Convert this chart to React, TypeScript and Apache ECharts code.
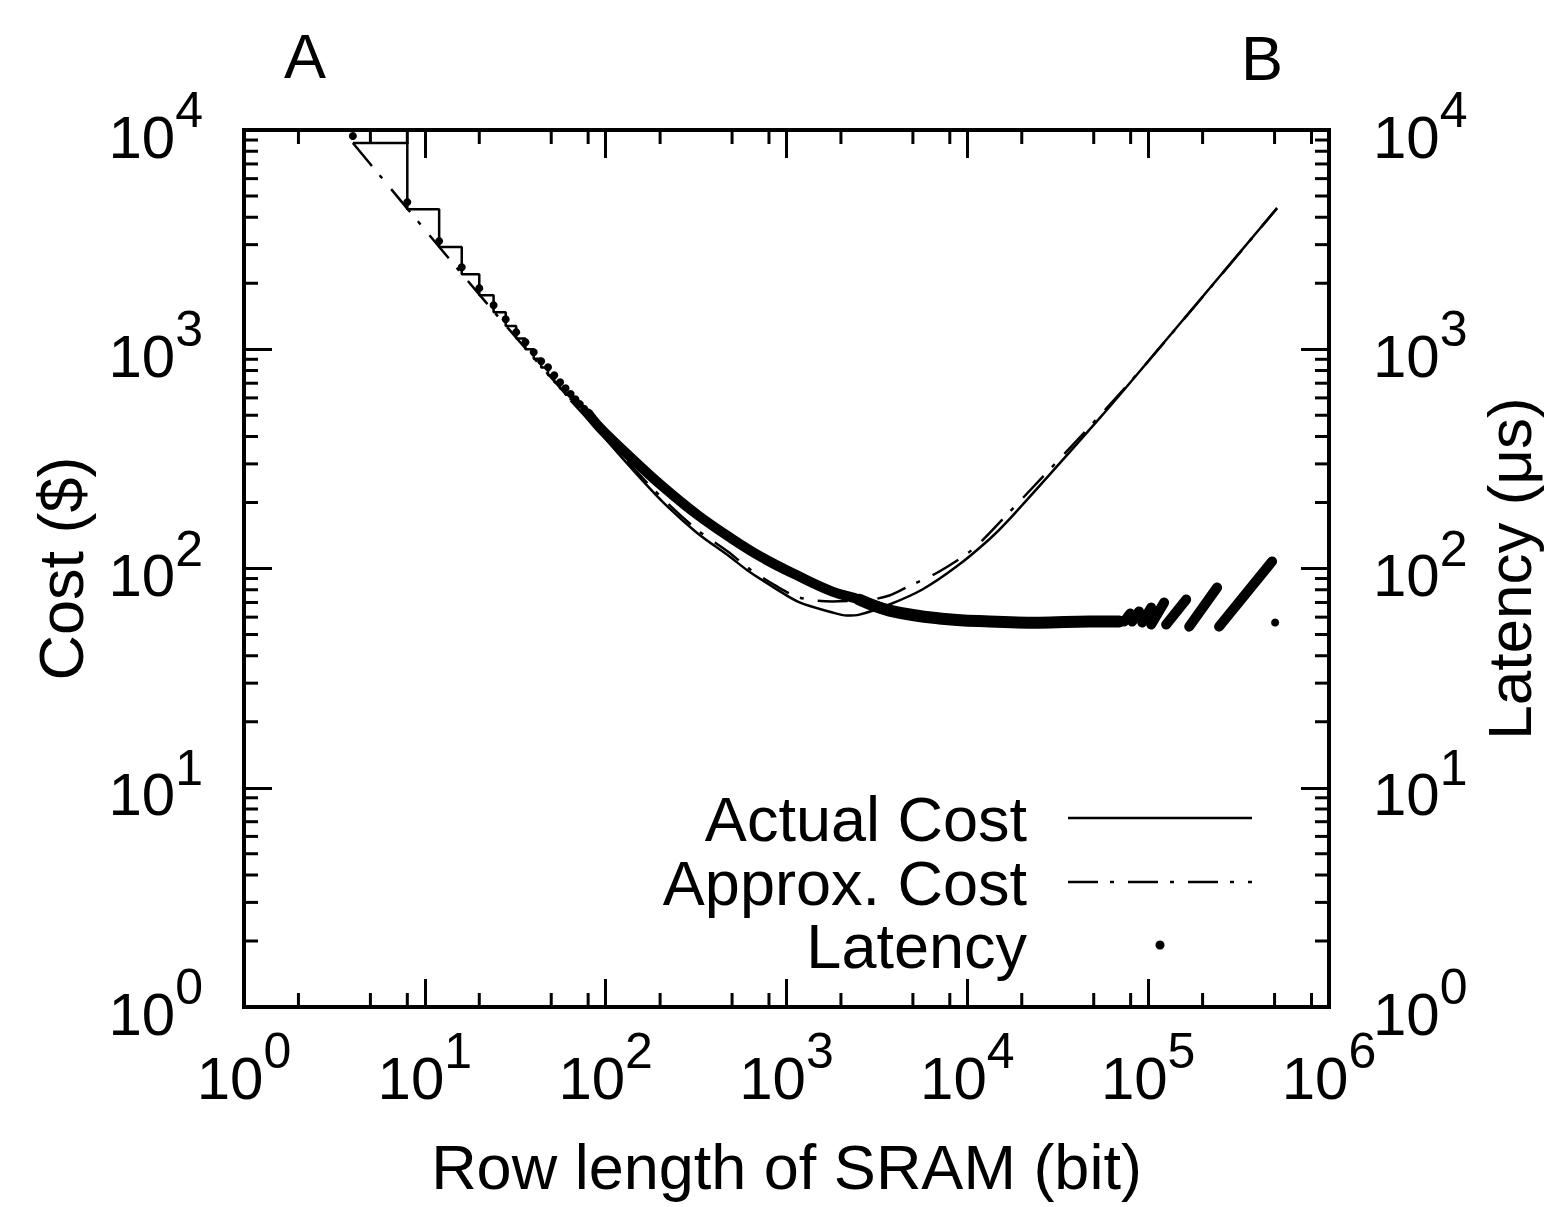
import React, { useEffect, useRef } from 'react';
import * as echarts from 'echarts';

const FONT = '"Liberation Sans", Arial, Helvetica, sans-serif';

// ---- data ----
// Actual cost, stair-stepped part (row length in bits, cost in $)
const actualStepX = [4, 8, 12, 16, 20, 24, 28, 32, 36, 40, 44, 48, 52, 56, 60, 64];
const actualStepY = [8730, 4356, 2923, 2199, 1765, 1476, 1275, 1120, 1000, 905, 826, 762, 707, 660, 620, 585];
// Actual cost, smooth part
const actualX = [64, 92.7, 136, 206, 318, 484, 609, 870, 1180, 1795, 2145, 2530, 3710, 5640, 8710, 13240, 17000, 55000, 100000, 516000];
const actualY = [585, 418, 292, 202, 146, 113.5, 98, 81, 70, 63, 61, 61.6, 68.5, 80.2, 102, 136, 167, 494, 881, 4400];
// Approximate cost
const approxX = [4, 8, 16, 32, 64, 92.7, 136, 206, 318, 484, 609, 870, 1180, 1795, 2530, 2985, 3710, 4600, 7000, 10660, 15600, 53600, 100000, 516000];
const approxY = [8730, 4380, 2210, 1130, 590, 431, 299, 209, 151, 118, 101, 83.5, 73.7, 70.7, 71.4, 72.2, 75.3, 81.9, 96.9, 122, 167, 494, 881, 4400];
// Latency, individual dots (µs)
const latencyDotX = [4, 8, 12, 16, 20, 24, 28, 32, 36, 40, 44, 48, 52, 56, 60, 64, 68, 72, 76, 80, 84, 88, 92, 96, 100, 503400];
const latencyDotY = [9390, 4690, 3113, 2368, 1900, 1588, 1371, 1197, 1077, 969, 881, 827, 761, 707, 664, 625, 592, 562, 535, 510, 488, 467, 446, 428, 412, 56.7];
// Latency, dense band (descending part)
const latencyBandX = [80, 92.7, 136, 206, 318, 484, 737, 1180, 1795, 2530, 3710];
const latencyBandY = [510, 440, 324, 237, 177, 139, 112, 91.9, 78.5, 72.1, 64.3];
// Latency, dense band (flat part)
const latencyFlatX = [2530, 3710, 7000, 13240, 25000, 47200, 69200];
const latencyFlatY = [72.1, 64.3, 59.2, 57.3, 56.6, 57.3, 57.3];
// Latency, saw-tooth strokes at large row lengths: [x1, y1, x2, y2]
const latencyStrokes = [
  [73700, 57.3, 79600, 62.4],
  [81600, 57.3, 89100, 63.7],
  [92700, 56.7, 103900, 66.3],
  [103900, 55.5, 122500, 69.9],
  [125700, 55.5, 162200, 72.2],
  [168600, 54.3, 240600, 81.9],
  [246700, 54.3, 484500, 107.7],
];
// Axis ranges and minor tick mantissas
const xRange = [1, 1e6];
const yRange = [1, 1e4];
const xMinorMantissas = [2, 5, 8];
const yMinorMantissas = [2, 3, 4, 5, 6, 7, 8, 9];
const xDecades = [1, 10, 100, 1000, 10000, 100000];
const yDecades = [1, 10, 100, 1000];
const legendLabels = ['Actual Cost', 'Approx. Cost', 'Latency'];

const zip = (xs: number[], ys: number[]) => xs.map((x, i) => [x, ys[i]]);

const supFmt = (v: number) => `{b|10}{s|${Math.round(Math.log10(v))}}`;
const rich = {
  b: { fontSize: 60, fontFamily: FONT, color: '#000', padding: [14, 0, 0, 0] },
  s: { fontSize: 50, fontFamily: FONT, color: '#000', padding: [0, 0, 40, 0] },
};

export default function App() {
  const ref = useRef<HTMLDivElement>(null);
  useEffect(() => {
    if (!ref.current) return;
    const chart = echarts.init(ref.current, undefined, { renderer: 'svg' });

    const xMinor: number[][] = [];
    xDecades.forEach((d) => xMinorMantissas.forEach((m) => xMinor.push([d * m, 1])));
    const yMinor: number[][] = [];
    yDecades.forEach((d) => yMinorMantissas.forEach((m) => yMinor.push([1, d * m])));

    const black = '#000';
    const tickStyle = { stroke: black, lineWidth: 3 };

    const option: any = {
      animation: false,
      backgroundColor: '#fff',
      textStyle: { fontFamily: FONT, color: black },
      grid: {
        left: 244, top: 130, right: 218, bottom: 200,
        outerBoundsMode: 'none', containLabel: false,
        show: true, borderColor: black, borderWidth: 4, backgroundColor: 'transparent',
      },
      xAxis: [
        {
          type: 'log', logBase: 10, min: xRange[0], max: xRange[1], splitNumber: 6, position: 'bottom',
          axisLine: { show: false },
          axisTick: { show: true, inside: true, length: 28, lineStyle: { color: black, width: 3 } },
          splitLine: { show: false },
          axisLabel: { show: true, margin: 19, formatter: supFmt, rich, color: black },
          name: 'Row length of SRAM (bit)', nameLocation: 'middle', nameGap: 128,
          nameTextStyle: { fontSize: 63, fontFamily: FONT, color: black },
        },
        {
          type: 'log', logBase: 10, min: xRange[0], max: xRange[1], splitNumber: 6, position: 'top',
          axisLine: { show: false },
          axisTick: { show: true, inside: true, length: 28, lineStyle: { color: black, width: 3 } },
          splitLine: { show: false },
          axisLabel: { show: false },
        },
      ],
      yAxis: [
        {
          type: 'log', logBase: 10, min: yRange[0], max: yRange[1], splitNumber: 4, position: 'left',
          axisLine: { show: false },
          axisTick: { show: true, inside: true, length: 28, lineStyle: { color: black, width: 3 } },
          splitLine: { show: false },
          axisLabel: { show: true, margin: 41, formatter: supFmt, rich, color: black },
          name: 'Cost ($)', nameLocation: 'middle', nameGap: 152, nameRotate: 90,
          nameTextStyle: { fontSize: 63, fontFamily: FONT, color: black },
        },
        {
          type: 'log', logBase: 10, min: yRange[0], max: yRange[1], splitNumber: 4, position: 'right',
          axisLine: { show: false },
          axisTick: { show: true, inside: true, length: 28, lineStyle: { color: black, width: 3 } },
          splitLine: { show: false },
          axisLabel: { show: true, margin: 44, formatter: supFmt, rich, color: black },
          name: 'Latency (μs)', nameLocation: 'middle', nameGap: 149, nameRotate: 90,
          nameTextStyle: { fontSize: 62, fontFamily: FONT, color: black },
        },
      ],
      series: [
        {
          type: 'custom', name: 'xMinorTicks', silent: true, xAxisIndex: 0, yAxisIndex: 0,
          data: xMinor, clip: false,
          renderItem: (_p: any, api: any) => {
            const v = api.value(0);
            const b = api.coord([v, yRange[0]]);
            const t = api.coord([v, yRange[1]]);
            return {
              type: 'group',
              children: [
                { type: 'line', shape: { x1: b[0], y1: b[1], x2: b[0], y2: b[1] - 14 }, style: tickStyle },
                { type: 'line', shape: { x1: t[0], y1: t[1], x2: t[0], y2: t[1] + 14 }, style: tickStyle },
              ],
            };
          },
        },
        {
          type: 'custom', name: 'yMinorTicks', silent: true, xAxisIndex: 0, yAxisIndex: 0,
          data: yMinor, clip: false,
          renderItem: (_p: any, api: any) => {
            const v = api.value(1);
            const l = api.coord([xRange[0], v]);
            const r = api.coord([xRange[1], v]);
            return {
              type: 'group',
              children: [
                { type: 'line', shape: { x1: l[0], y1: l[1], x2: l[0] + 14, y2: l[1] }, style: tickStyle },
                { type: 'line', shape: { x1: r[0], y1: r[1], x2: r[0] - 14, y2: r[1] }, style: tickStyle },
              ],
            };
          },
        },
        {
          type: 'line', name: 'Actual Cost', data: zip(actualStepX, actualStepY), step: 'end',
          symbol: 'none', silent: true, lineStyle: { color: black, width: 2.5 },
        },
        {
          type: 'line', name: 'Actual Cost (smooth)', data: zip(actualX, actualY), smooth: 0.3,
          symbol: 'none', silent: true, lineStyle: { color: black, width: 2.5 },
        },
        {
          type: 'line', name: 'Approx. Cost', data: zip(approxX, approxY), smooth: 0.3,
          symbol: 'none', silent: true, lineStyle: { color: black, width: 2.5, type: [30, 12, 4, 14] },
        },
        {
          type: 'line', name: 'Latency band', data: zip(latencyBandX, latencyBandY), smooth: 0.4,
          symbol: 'none', silent: true, lineStyle: { color: black, width: 10, cap: 'round' },
        },
        {
          type: 'line', name: 'Latency flat', data: zip(latencyFlatX, latencyFlatY), smooth: 0.4,
          symbol: 'none', silent: true, lineStyle: { color: black, width: 12, cap: 'round' },
        },
        {
          type: 'custom', name: 'Latency strokes', silent: true, xAxisIndex: 0, yAxisIndex: 0,
          data: latencyStrokes,
          renderItem: (_p: any, api: any) => {
            const p1 = api.coord([api.value(0), api.value(1)]);
            const p2 = api.coord([api.value(2), api.value(3)]);
            return {
              type: 'line',
              shape: { x1: p1[0], y1: p1[1], x2: p2[0], y2: p2[1] },
              style: { stroke: black, lineWidth: 10, lineCap: 'round' },
            };
          },
        },
        {
          type: 'scatter', name: 'Latency', data: zip(latencyDotX, latencyDotY),
          symbol: 'circle', symbolSize: 8, silent: true, itemStyle: { color: black, opacity: 1 },
        },
      ],
      graphic: [
        { type: 'text', x: 305, y: 56, silent: true, style: { text: 'A', font: `63px ${FONT}`, fill: black, align: 'center', verticalAlign: 'middle' } },
        { type: 'text', x: 1262, y: 58, silent: true, style: { text: 'B', font: `63px ${FONT}`, fill: black, align: 'center', verticalAlign: 'middle' } },
        { type: 'text', x: 1027, y: 819, silent: true, style: { text: legendLabels[0], font: `63px ${FONT}`, fill: black, align: 'right', verticalAlign: 'middle' } },
        { type: 'text', x: 1027, y: 883, silent: true, style: { text: legendLabels[1], font: `63px ${FONT}`, fill: black, align: 'right', verticalAlign: 'middle' } },
        { type: 'text', x: 1027, y: 946, silent: true, style: { text: legendLabels[2], font: `63px ${FONT}`, fill: black, align: 'right', verticalAlign: 'middle' } },
        { type: 'line', silent: true, shape: { x1: 1068, y1: 818, x2: 1252, y2: 818 }, style: { stroke: black, lineWidth: 2.5 } },
        { type: 'line', silent: true, shape: { x1: 1068, y1: 882, x2: 1252, y2: 882 }, style: { stroke: black, lineWidth: 2.5, lineDash: [30, 12, 4, 14] } },
        { type: 'circle', silent: true, shape: { cx: 1160, cy: 945, r: 4.5 }, style: { fill: black } },
      ],
    };
    chart.setOption(option);
    return () => chart.dispose();
  }, []);
  return (
    <div
      ref={ref}
      style={{ position: 'absolute', left: 0, top: 0, width: 1547, height: 1207, background: '#fff' }}
    />
  );
}
